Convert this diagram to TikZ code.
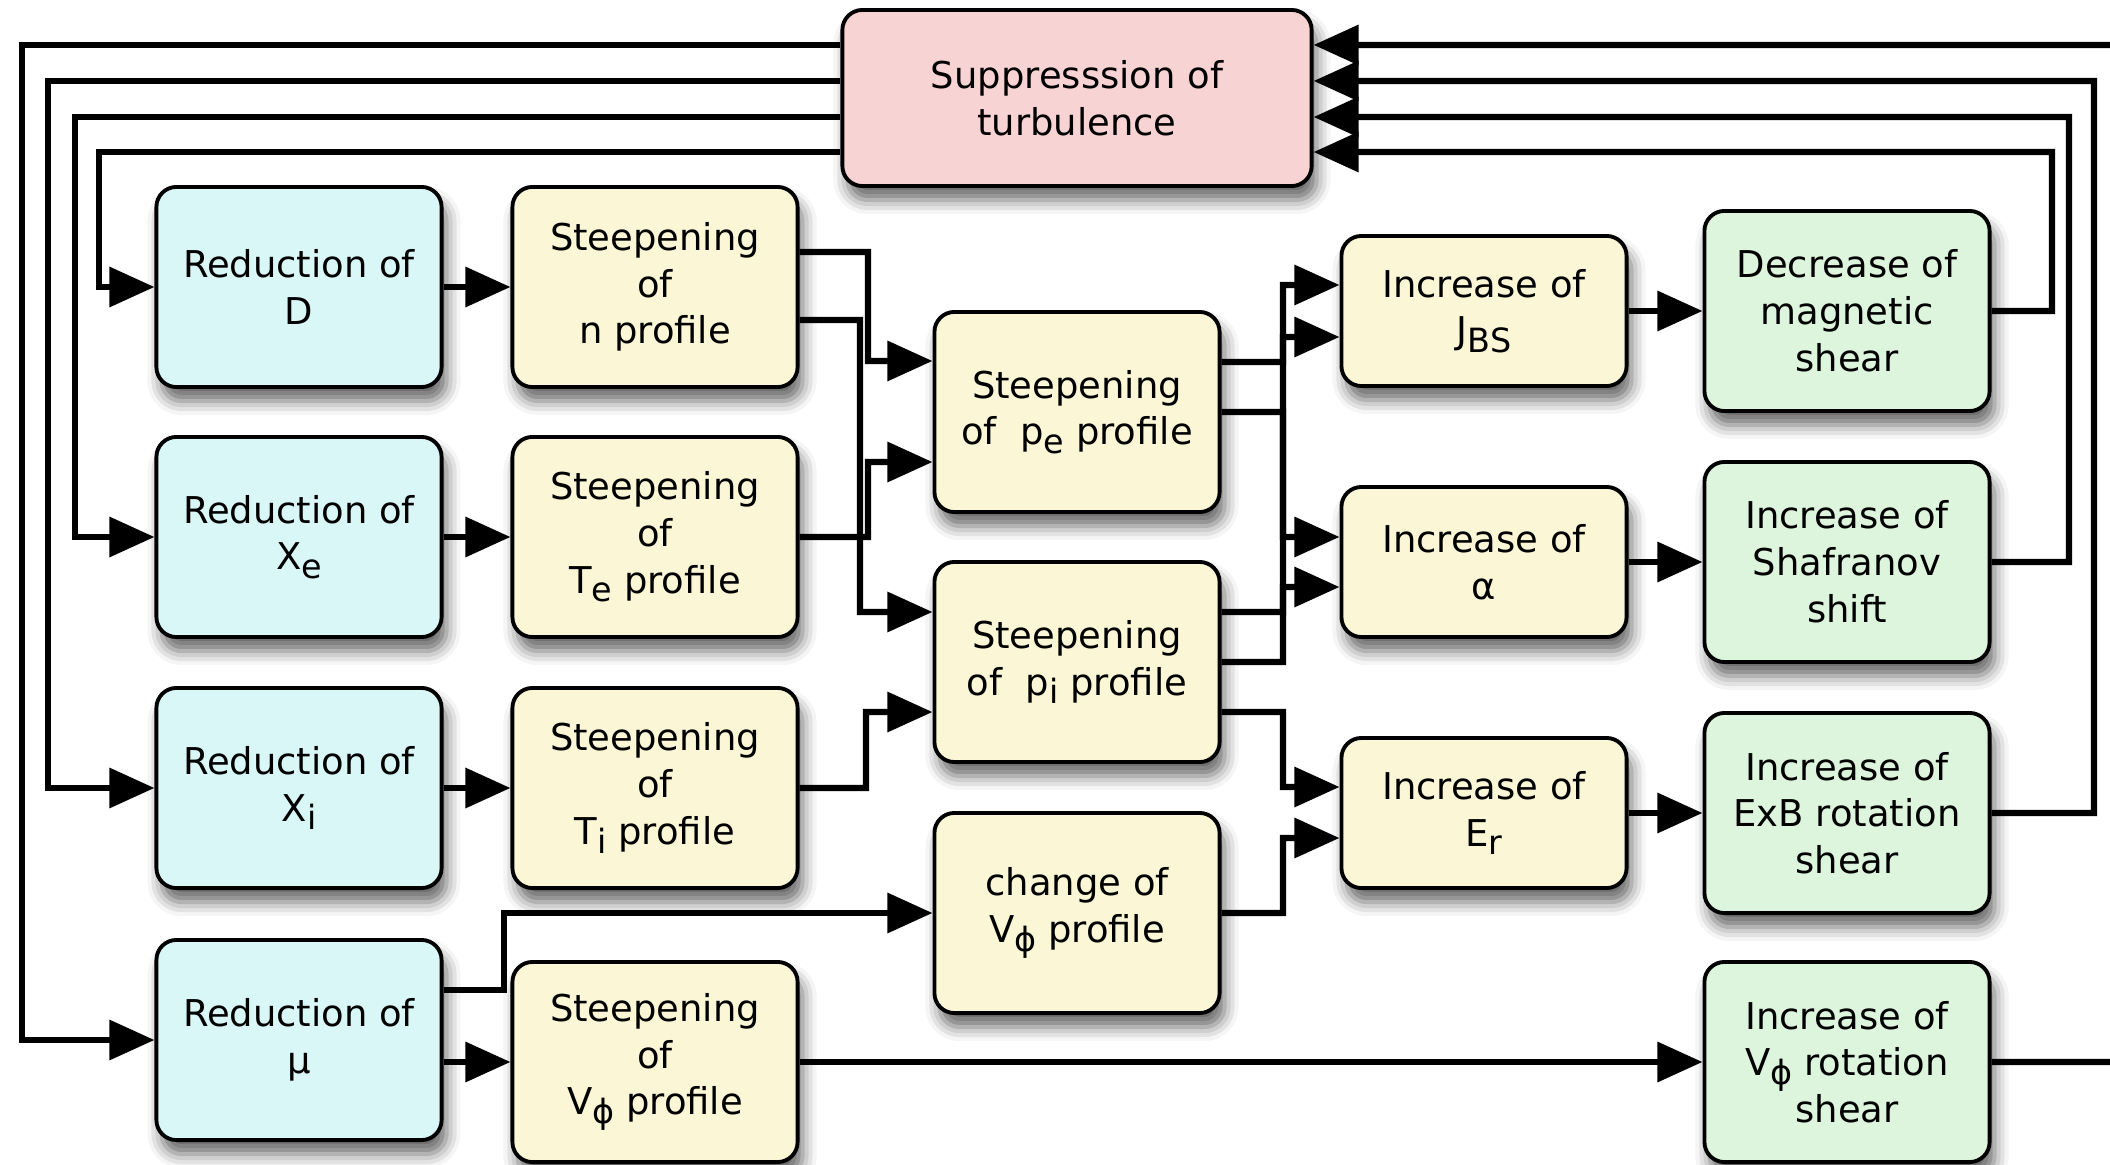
\documentclass[tikz,border=0pt]{standalone}
\usepackage{fontspec}
\setmainfont{DejaVu Sans}
\usetikzlibrary{arrows.meta,shadows.blur}
\definecolor{supcol}{HTML}{F8D3D3}
\definecolor{redcol}{HTML}{DAF7F8}
\definecolor{stpcol}{HTML}{FBF7D6}
\definecolor{effcol}{HTML}{DDF5DC}
\newcommand\lsub[1]{\raisebox{-2.5pt}{\fontsize{9.5}{9.5}\selectfont #1}}
\tikzset{
procbox/.style={draw, line width=1.1pt, rounded corners=2mm, align=center, inner sep=0pt,
  minimum width=2.85cm, minimum height=2cm, font=\fontsize{10.5}{13.3}\selectfont,
  blur shadow={shadow xshift=0.5mm, shadow yshift=-1.4mm, shadow blur radius=1.4mm, shadow opacity=60}},
link/.style={line width=1.8pt, -{Triangle[length=4.5mm,width=3.9mm]}}
}
\begin{document}
\begin{tikzpicture}[x=0.01cm, y=-0.01cm]
\useasboundingbox (0,0) rectangle (2110,1164);

\node[procbox, fill=supcol, minimum width=4.69cm, minimum height=1.76cm] (supp) at (1077,98) {Suppresssion of\\turbulence};

\node[procbox, fill=redcol] (rD)  at (299,287)  {Reduction of\\D};
\node[procbox, fill=redcol] (rXe) at (299,537)  {Reduction of\\X\lsub{e}};
\node[procbox, fill=redcol] (rXi) at (299,788)  {Reduction of\\X\lsub{i}};
\node[procbox, fill=redcol] (rmu) at (299,1040) {Reduction of\\µ};

\node[procbox, fill=stpcol] (sn)  at (655,287)  {Steepening\\of\\n profile};
\node[procbox, fill=stpcol] (sTe) at (655,537)  {Steepening\\of\\T\lsub{e} profile};
\node[procbox, fill=stpcol] (sTi) at (655,788)  {Steepening\\of\\T\lsub{i} profile};
\node[procbox, fill=stpcol] (sV)  at (655,1062) {Steepening\\of\\V\lsub{ϕ} profile};

\node[procbox, fill=stpcol] (spe) at (1077,412) {Steepening\\of\ \ p\lsub{e} profile};
\node[procbox, fill=stpcol] (spi) at (1077,662) {Steepening\\of\ \ p\lsub{i} profile};
\node[procbox, fill=stpcol] (cV)  at (1077,913) {change of\\V\lsub{ϕ} profile};

\node[procbox, fill=stpcol, minimum height=1.5cm] (iJ) at (1484,311) {Increase of\\J\lsub{BS}};
\node[procbox, fill=stpcol, minimum height=1.5cm] (ia) at (1484,562) {Increase of\\α};
\node[procbox, fill=stpcol, minimum height=1.5cm] (iE) at (1484,813) {Increase of\\E\lsub{r}};

\node[procbox, fill=effcol] (dm) at (1847,311)  {Decrease of\\magnetic\\shear};
\node[procbox, fill=effcol] (iS) at (1847,562)  {Increase of\\Shafranov\\shift};
\node[procbox, fill=effcol] (iX) at (1847,813)  {Increase of\\ExB rotation\\shear};
\node[procbox, fill=effcol] (iV) at (1847,1062) {Increase of\\V\lsub{ϕ} rotation\\shear};

\path[link]
(rD) edge (sn)    (rXe) edge (sTe)    (rXi) edge (sTi)    (rmu.east |- sV) edge (sV)
(iJ) edge (dm)    (ia) edge (iS)      (iE) edge (iX)      (sV) edge (iV);

\draw[link] ([yshift=3.5mm]sn.east) -| (868,361) -- ([yshift=5.1mm]spe.west);
\draw[link] ([yshift=-3.3mm]sn.east) -| (860,612) -- ([yshift=5mm]spi.west);
\draw[link] (sTe.east) -| (868,462) -- ([yshift=-5mm]spe.west);
\draw[link] (sTi.east) -| (866,712) -- ([yshift=-5mm]spi.west);
\draw[link] ([yshift=5mm]rmu.east) -| (504,913) -- (cV);

\draw[link] ([yshift=5mm]spe.east) -| (1283,285) -- ([yshift=2.6mm]iJ.west);
\draw[link] (spe.east) -| (1283,537) -- ([yshift=2.5mm]ia.west);
\draw[link] ([yshift=5mm]spi.east) -| (1283,337) -- ([yshift=-2.6mm]iJ.west);
\draw[link] (spi.east) -| (1283,587) -- ([yshift=-2.5mm]ia.west);
\draw[link] ([yshift=-5mm]spi.east) -| (1283,787) -- ([yshift=2.6mm]iE.west);
\draw[link] (cV.east) -| (1283,838) -- ([yshift=-2.5mm]iE.west);

\draw[link] (dm.east) -| (2052,152) -- ([yshift=-5.4mm]supp.east);
\draw[link] (iS.east) -| (2069,117) -- ([yshift=-1.9mm]supp.east);
\draw[link] (iX.east) -| (2094,81) -- ([yshift=1.7mm]supp.east);
\draw[link] (iV.east) -| (2150,45) -- ([yshift=5.3mm]supp.east);

\draw[link] ([yshift=5.3mm]supp.west) -| (22,1040) -- (rmu);
\draw[link] ([yshift=1.7mm]supp.west) -| (48,788) -- (rXi);
\draw[link] ([yshift=-1.9mm]supp.west) -| (75,537) -- (rXe);
\draw[link] ([yshift=-5.4mm]supp.west) -| (99,287) -- (rD);
\end{tikzpicture}
\end{document}
